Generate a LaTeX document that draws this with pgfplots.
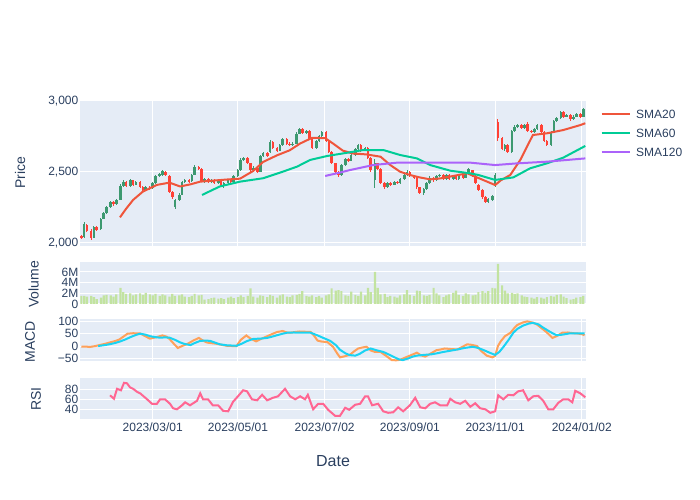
\documentclass[border=0pt]{standalone}
\usepackage{fontspec}
\setmainfont{Liberation Sans}
\usepackage{pgfplots}
\usepackage{pgfplotstable}
\pgfplotsset{compat=1.18}

\definecolor{plotbg}{HTML}{E5ECF6}
\definecolor{txt}{HTML}{2A3F5F}
\definecolor{incr}{HTML}{3D9970}
\definecolor{decr}{HTML}{FF4136}
\definecolor{sma20}{HTML}{EF553B}
\definecolor{sma60}{HTML}{00CC96}
\definecolor{sma120}{HTML}{AB63FA}
\definecolor{vol}{HTML}{C2E3A0}
\definecolor{macdc}{HTML}{FFA15A}
\definecolor{sigc}{HTML}{19D3F3}
\definecolor{rsic}{HTML}{FF6692}

% day = days since 2023-01-01, o h l c, volume in millions
\pgfplotstableread{
d o h l c v
8 2045 2058 2028 2035 1.5
10 2040 2145 2035 2130 1.5
12 2125 2135 2075 2080 1.4
15 2085 2095 2020 2030 1.5
17 2035 2120 2030 2110 1.3
19 2110 2118 2082 2090 0.9
22 2095 2178 2090 2170 1.2
24 2170 2218 2165 2210 1.6
26 2210 2262 2205 2255 1.7
29 2255 2292 2248 2285 1.6
31 2290 2296 2262 2270 1.4
33 2270 2308 2265 2300 1.8
36 2305 2412 2300 2400 3.0
38 2400 2440 2392 2430 2.2
40 2430 2438 2392 2400 1.9
43 2400 2448 2395 2440 2.0
45 2440 2446 2402 2410 1.6
47 2410 2438 2404 2430 1.8
50 2430 2436 2384 2390 2.0
52 2390 2398 2362 2370 1.7
54 2370 2402 2364 2395 2.1
57 2395 2400 2372 2380 1.8
59 2385 2428 2380 2420 1.6
61 2420 2478 2415 2470 1.9
64 2470 2492 2462 2485 1.5
66 2480 2515 2474 2505 1.8
68 2500 2508 2468 2475 1.6
71 2470 2476 2352 2360 1.4
73 2360 2368 2312 2320 1.9
75 2250 2308 2238 2300 1.5
78 2300 2348 2292 2340 1.6
80 2340 2438 2335 2430 1.8
82 2430 2452 2422 2445 1.4
85 2445 2452 2422 2430 1.3
87 2435 2488 2430 2480 1.5
89 2480 2545 2475 2535 1.9
92 2535 2542 2512 2520 1.6
94 2520 2526 2425 2430 1.7
96 2430 2458 2424 2450 0.8
99 2450 2456 2418 2425 0.9
101 2425 2452 2420 2445 1.1
103 2445 2450 2412 2420 1.2
106 2420 2448 2414 2440 1.0
108 2440 2446 2394 2400 1.1
110 2400 2428 2384 2420 0.9
113 2420 2452 2414 2445 1.2
115 2445 2450 2424 2430 1.4
117 2430 2478 2425 2470 1.1
120 2470 2518 2465 2510 1.3
122 2510 2595 2505 2585 1.6
124 2585 2605 2578 2595 1.3
127 2595 2602 2552 2560 1.5
129 2560 2566 2502 2510 2.9
131 2510 2538 2504 2530 1.4
134 2530 2536 2494 2500 1.2
136 2500 2618 2496 2610 1.6
138 2610 2640 2604 2630 1.5
141 2630 2638 2602 2610 1.3
143 2640 2722 2634 2710 1.7
145 2710 2716 2662 2670 1.5
148 2670 2676 2642 2650 1.2
150 2650 2698 2645 2690 1.6
152 2690 2740 2684 2730 1.8
155 2730 2736 2692 2700 1.4
157 2700 2708 2682 2690 1.3
159 2690 2710 2684 2700 1.6
162 2700 2778 2695 2770 1.7
164 2770 2812 2764 2800 1.9
166 2800 2806 2768 2775 2.4
169 2775 2798 2770 2790 1.5
171 2790 2796 2722 2730 1.4
173 2730 2736 2662 2670 1.6
176 2670 2728 2664 2720 1.3
178 2720 2758 2714 2750 1.5
180 2750 2790 2744 2780 1.2
183 2780 2786 2712 2720 1.6
185 2720 2726 2632 2640 1.8
187 2640 2646 2552 2560 2.9
190 2560 2566 2492 2500 2.5
192 2500 2508 2465 2480 2.6
194 2480 2558 2474 2550 2.4
197 2550 2598 2544 2590 1.6
199 2590 2596 2572 2580 1.5
201 2580 2628 2574 2620 2.3
204 2620 2668 2614 2660 1.7
206 2660 2698 2654 2690 1.5
208 2690 2696 2642 2650 2.3
211 2650 2678 2644 2670 1.6
213 2670 2676 2592 2600 3.0
215 2600 2606 2502 2510 2.2
218 2440 2590 2385 2560 6.0
220 2560 2566 2512 2520 3.0
222 2520 2526 2412 2420 1.8
225 2420 2428 2382 2390 1.9
227 2390 2428 2384 2420 1.3
229 2420 2426 2402 2410 1.5
232 2410 2438 2404 2430 1.4
234 2430 2436 2412 2420 1.2
236 2420 2458 2414 2450 1.6
239 2450 2488 2444 2480 1.8
241 2480 2510 2474 2500 2.6
243 2500 2506 2462 2470 1.7
246 2470 2476 2452 2460 1.5
248 2460 2466 2382 2390 2.5
250 2390 2396 2342 2350 2.4
253 2350 2388 2340 2380 1.6
255 2380 2428 2374 2420 1.5
257 2420 2468 2414 2460 1.7
260 2460 2466 2432 2440 3.0
262 2440 2478 2434 2470 2.0
264 2470 2488 2464 2480 1.6
267 2480 2486 2442 2450 1.3
269 2450 2488 2444 2480 1.6
271 2480 2486 2442 2450 1.8
274 2450 2478 2444 2470 2.1
276 2470 2476 2442 2450 2.5
278 2450 2488 2444 2480 1.7
281 2480 2486 2452 2460 1.5
283 2460 2498 2454 2490 2.0
285 2490 2528 2484 2520 1.8
288 2510 2516 2462 2470 1.6
290 2470 2476 2412 2420 1.7
292 2410 2416 2362 2370 2.2
295 2370 2376 2312 2320 2.4
297 2320 2328 2278 2290 2.1
299 2290 2318 2280 2310 2.4
302 2300 2338 2294 2330 3.0
304 2400 2490 2394 2480 2.9
306 2850 2870 2720 2740 7.5
309 2740 2746 2652 2660 3.5
311 2660 2698 2650 2690 2.5
313 2690 2696 2632 2640 2.0
316 2640 2798 2634 2790 2.1
318 2790 2828 2784 2820 1.9
320 2820 2840 2812 2830 2.0
323 2830 2836 2802 2810 1.6
325 2810 2838 2804 2830 1.4
327 2840 2850 2782 2790 1.3
330 2790 2796 2772 2780 1.2
332 2780 2808 2774 2800 1.0
334 2800 2838 2794 2830 1.3
337 2830 2836 2772 2780 1.2
339 2780 2786 2712 2720 1.0
341 2720 2726 2682 2690 1.3
344 2690 2788 2684 2780 1.5
346 2780 2868 2774 2860 1.4
348 2860 2888 2854 2880 1.7
351 2880 2928 2874 2920 1.8
353 2920 2926 2882 2890 1.4
355 2890 2908 2884 2900 1.1
358 2900 2906 2862 2870 0.8
360 2870 2898 2864 2890 0.9
362 2890 2918 2884 2910 1.2
365 2910 2916 2882 2890 1.3
367 2890 2952 2884 2945 1.5
}\candles

\pgfplotstableread{
d s
35.6 2179
40 2240
45 2302
52 2361
62 2408
71 2424
78.6 2397
86 2412
93 2431
102 2438
112 2446
121.5 2452
131 2507
138 2570
148 2617
157 2652
164.5 2700
173 2740
182.4 2738
188 2700
195 2650
202 2630
212 2623
222 2607
229 2548
236 2501
243 2478
250 2461
257.5 2447
265 2454
274 2471
284 2490
291 2461
304 2407
308 2440
314.8 2478
322 2584
331 2760
341 2772
352.7 2795
364.9 2830
368.5 2843
}\smatwenty

\pgfplotstableread{
d s
94.3 2337
107 2397
121.5 2431
138 2455
152.3 2502
162.3 2537
171.6 2584
183.8 2612
198.8 2636
209.6 2654
224 2654
236 2619
248 2595
257.5 2548
272 2508
286 2490
292 2478
304 2443
317 2461
329 2525
341 2560
352.7 2600
368.5 2683
}\smasixty

\pgfplotstableread{
d s
182.4 2471
191.7 2492
200.3 2513
216.7 2548
233.9 2565
257.5 2566
286.2 2565
304 2548
319.8 2560
341.3 2572
368.5 2595
}\smaonetwenty

\pgfplotstableread{
d m
8 -3
11 -2
14 -4
18 0
21 4
25 9
28 14
32 20
35 26
38 38
41 50
45 52
50 51
53 42
57 30
61 35
66 43
69 38
71 29
74 10
77 -8
80 0
84 9
88 22
92 33
95 22
98 14
102 11
105 9
109 4
112 1
116 0
119 0
122 25
126 43
129 30
133 19
137 30
141 40
145 50
148 57
152 61
155 55
157 54
161 57
164 59
168 58
172 57
174 45
177 22
180 18
184 16
188 -3
191 -30
193 -46
196 -42
200 -36
203 -22
206 -10
209 -6
212 -3
215 -18
218 -24
222 -24
226 -40
230 -57
233 -58
236 -56
240 -46
243 -39
246 -32
248 -27
251 -38
254 -43
258 -30
262 -17
265 -14
268 -10
272 -12
277 -14
280 -5
284 7
287 5
291 0
294 -20
298 -39
302 -46
304 -40
306 0
308 19
311 40
315 54
318 75
320 86
324 96
327 100
331 95
334 87
338 69
341 55
345 33
348 40
352 54
356 55
360 52
363 51
366 48
368 44
}\tabmacd

\pgfplotstableread{
d s
20 0
25 4
28 7
32 12
36 19
40 28
43 36
47 45
50 50
54 46
57 40
61 36
64 34
68 35
71 34
75 25
79 14
82 8
86 4
89 12
93 21
97 22
100 21
104 13
107 7
112 3
119 1
123 10
126 19
131 29
136 30
141 33
145 39
148 44
152 50
155 54
160 55
165 54
172 54
177 43
181 33
186 21
190 4
193 -15
197 -30
200 -37
204 -39
207 -32
211 -18
215 -10
219 -17
224 -24
230 -40
235 -54
238 -57
242 -50
245 -43
248 -39
253 -36
258 -34
262 -30
267 -24
272 -19
277 -14
282 -8
288 -3
292 -8
296 -17
300 -27
304 -36
307 -24
310 -3
314 28
317 54
320 70
324 83
328 91
331 94
335 88
338 76
342 62
345 52
348 44
352 46
357 51
362 51
368 51
}\tabsignal

\pgfplotstableread{
d r
28.5 68
31.3 61
33.5 81
36.3 78
38.5 93
40.6 92
42.8 84
45 81
47.8 75
50 72
55 60
58.5 51
62 51
64.3 60
67.8 60
71.4 51
73.6 42
76.4 40
80 48
82.2 54
85.7 48
90.7 57
93 72
95 60
98.6 60
102 48
105.8 48
109.4 37
113 36
116.5 55
120 66
123.7 78
126.5 76
130 60
133.7 58
137.3 69
140.9 58
145 63
148.7 66
153.7 81
157.3 66
161 60
164.5 66
168 60
170 69
173.8 40
177.4 51
181 51
184.5 39
189.5 27
193 27
196.7 43
199.6 39
203.8 49
207.4 51
211 66
213 66
216 48
220.3 51
223.9 36
227.5 33
231 34
234.6 44
238.2 36
243 48
246.8 63
250.4 44
254 42
257.5 51
261 54
264.7 48
269.7 48
271.9 61
275.4 54
279 51
282.6 57
286.2 45
289.7 52
293.3 42
297 40
300.5 33
304 36
306.2 68
309.8 60
313.4 69
317 68
320.5 76
324 78
327.7 58
331.3 66
334.8 67
338.4 57
342 40
345.6 40
349.2 53
352.7 60
356.3 60
359.2 54
361.3 77
364.9 72
368.5 64
}\tabrsi

\pgfplotsset{
  panel/.style={
    scale only axis, width=506bp, anchor=south west,
    xmin=7, xmax=369,
    axis background/.style={fill=plotbg},
    axis line style={draw=none}, tick style={draw=none},
    grid=major, major grid style={white, line width=1bp},
    xtick={59,120,182,243,304,366}, xticklabels={},
    yticklabel style={inner xsep=1.5bp, inner ysep=0pt},
    ticklabel style={font=\fontsize{12bp}{14bp}\selectfont, text=txt},
    /pgf/number format/assume math mode=true,
  },
  candle/.style n args={3}{forget plot, draw=none, mark=none,
    error bars/.cd, y dir=both, y explicit, error mark=none,
    error bar style={draw=#1, line width=#2, solid}},
}

\begin{document}
\begin{tikzpicture}
\useasboundingbox (0,0) rectangle (700bp,500bp);

% price
\begin{axis}[panel, at={(80bp,254bp)}, height=146bp,
  ymin=1977, ymax=3007, ytick={2000,2500,3000},
  /pgf/number format/1000 sep={,}]
\addplot[candle={incr}{1bp}{}] table[x=d,
  y expr={\thisrow{c}>=\thisrow{o} ? 0.5*(\thisrow{h}+\thisrow{l}) : nan},
  y error expr={0.5*(\thisrow{h}-\thisrow{l})}] {\candles};
\addplot[candle={incr}{2.6bp}{}] table[x=d,
  y expr={\thisrow{c}>=\thisrow{o} ? 0.5*(\thisrow{o}+\thisrow{c}) : nan},
  y error expr={0.5*abs(\thisrow{c}-\thisrow{o})}] {\candles};
\addplot[candle={decr}{1bp}{}] table[x=d,
  y expr={\thisrow{c}<\thisrow{o} ? 0.5*(\thisrow{h}+\thisrow{l}) : nan},
  y error expr={0.5*(\thisrow{h}-\thisrow{l})}] {\candles};
\addplot[candle={decr}{2.6bp}{}] table[x=d,
  y expr={\thisrow{c}<\thisrow{o} ? 0.5*(\thisrow{o}+\thisrow{c}) : nan},
  y error expr={0.5*abs(\thisrow{c}-\thisrow{o})}] {\candles};
\addplot[sma20, line width=2bp, mark=none] table[x=d, y=s] {\smatwenty};
\addplot[sma60, line width=2bp, mark=none] table[x=d, y=s] {\smasixty};
\addplot[sma120, line width=2bp, mark=none] table[x=d, y=s] {\smaonetwenty};
\end{axis}

% volume
\begin{axis}[panel, at={(80bp,196bp)}, height=41.7bp, xmajorgrids=false,
  ymin=0, ymax=7.8, ytick={0,2,4,6}, yticklabels={0,2M,4M,6M}]
\addplot[ybar, bar width=2.2bp, fill=vol, draw=none] table[x=d, y=v] {\candles};
\end{axis}

% MACD
\begin{axis}[panel, at={(80bp,138.7bp)}, height=42bp,
  ymin=-62, ymax=108.5, ytick={-50,0,50,100}, yticklabels={−50,0,50,100},
  extra y ticks={0}, extra y tick labels={},
  extra y tick style={grid style={white, line width=2bp}}]
\addplot[macdc, line width=2bp, mark=none] table[x=d, y=m] {\tabmacd};
\addplot[sigc, line width=2bp, mark=none] table[x=d, y=s] {\tabsignal};
\end{axis}

% RSI
\begin{axis}[panel, at={(80bp,80.7bp)}, height=41bp,
  ymin=20, ymax=102, ytick={40,60,80},
  xticklabels={2023/03/01,2023/05/01,2023/07/02,2023/09/01,2023/11/01,2024/01/02}]
\addplot[rsic, line width=2bp, mark=none] table[x=d, y=r] {\tabrsi};
\end{axis}

% axis titles
\begin{scope}[every node/.style={text=txt, font=\fontsize{14bp}{16bp}\selectfont}]
\node[rotate=90] at (20bp,327bp) {Price};
\node[rotate=90] at (33.5bp,215.5bp) {Volume};
\node[rotate=90] at (30bp,158.5bp) {MACD};
\node[rotate=90] at (36bp,101bp) {RSI};
\node[font=\fontsize{16bp}{18bp}\selectfont] at (333bp,39bp) {Date};
\end{scope}

% legend
\begin{scope}[every node/.style={text=txt, font=\fontsize{12bp}{14bp}\selectfont, anchor=west, inner sep=0pt}]
\draw[sma20, line width=2bp] (601.7bp,385.7bp) -- (630bp,385.7bp);
\node at (636bp,385.7bp) {SMA20};
\draw[sma60, line width=2bp] (601.7bp,366.7bp) -- (630bp,366.7bp);
\node at (636bp,366.7bp) {SMA60};
\draw[sma120, line width=2bp] (601.7bp,347.7bp) -- (630bp,347.7bp);
\node at (636bp,347.7bp) {SMA120};
\end{scope}
\end{tikzpicture}
\end{document}
